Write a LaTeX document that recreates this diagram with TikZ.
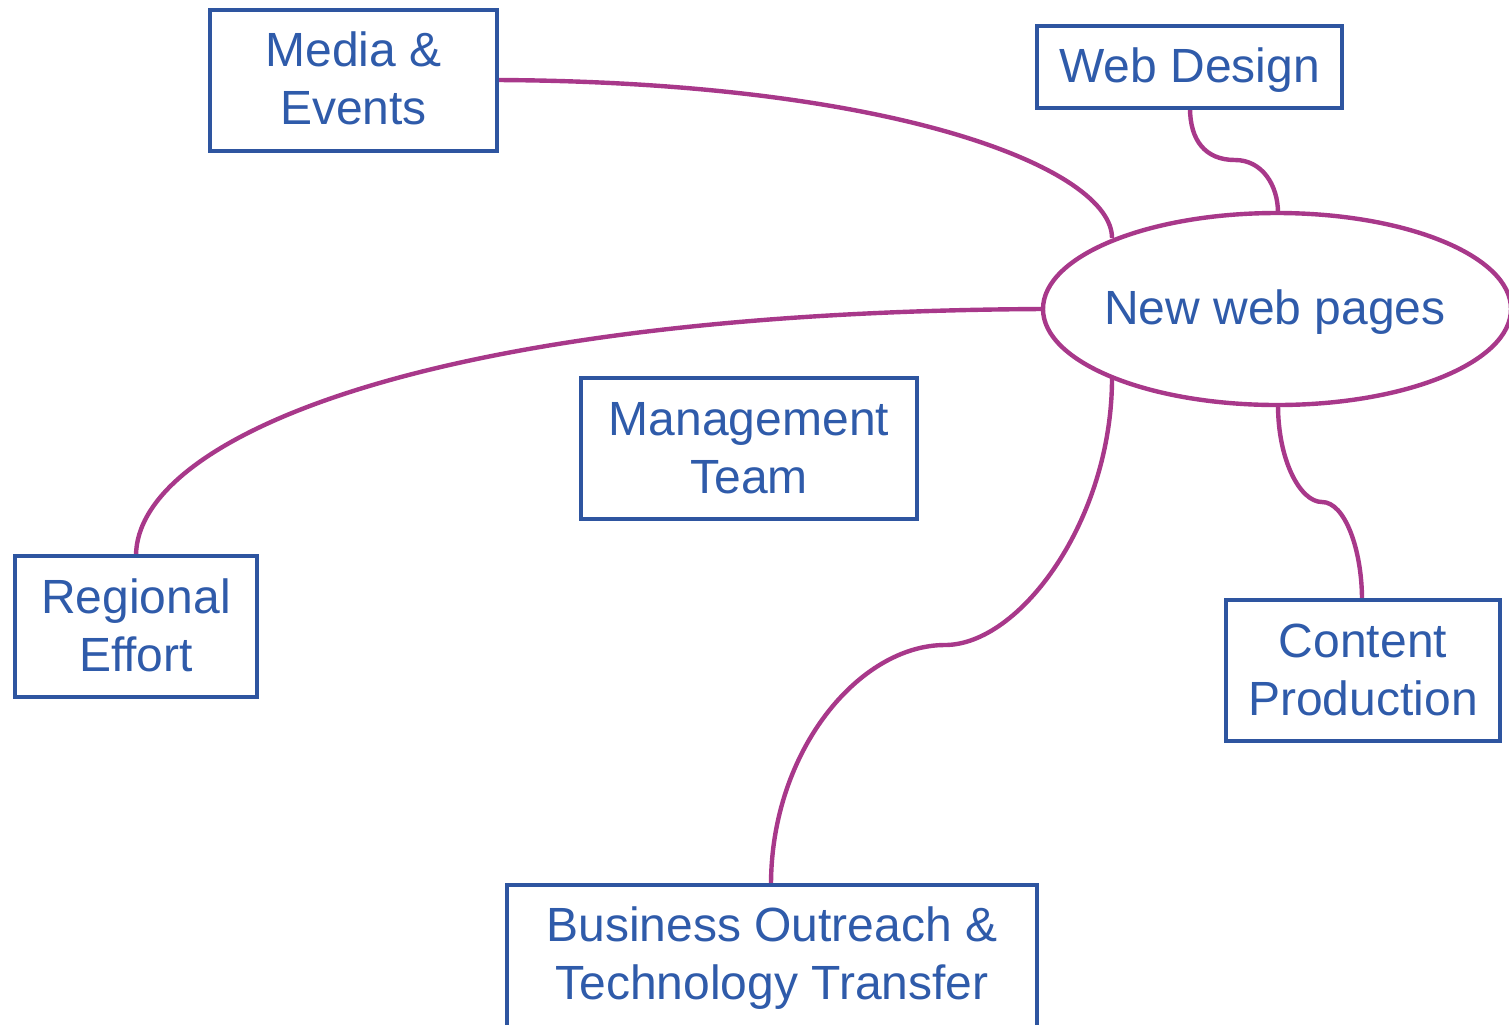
\documentclass[tikz,border=0pt]{standalone}
\usepackage{fontspec}
\setmainfont{Liberation Sans}
\definecolor{boxblue}{HTML}{2E55A0}
\definecolor{txtblue}{HTML}{2F5BAA}
\definecolor{linkmag}{HTML}{A8388A}
\tikzset{
  topic/.style={draw=boxblue, line width=2.1pt, fill=white, text=txtblue, align=center, inner sep=0pt,
     font=\fontsize{24}{29}\selectfont},
  lbl/.style={text=txtblue, align=center, inner sep=0pt, font=\fontsize{24}{29}\selectfont},
  link/.style={draw=linkmag, line width=2.2pt},
}
\begin{document}
\begin{tikzpicture}[x=0.5pt,y=-0.5pt]
\useasboundingbox (0,0) rectangle (1509,1024);
\begin{scope}
\clip (0,0) rectangle (1509,1024);
% connectors first
\coordinate (wd1) at (1235,160);
\coordinate (bo1) at (945,645);
\coordinate (cp1) at (1322,502);
\draw[link] (497,80) .. controls (900,82) and (1112,170) .. (1112,238);
\draw[link] (1190,108) .. controls (1190,140) and (1205,160) .. (wd1) .. controls (1262,160) and (1278,185) .. (1278,213);
\draw[link] (1043,309) .. controls (420,312) and (136,440) .. (136,556);
\draw[link] (1112,378) .. controls (1112,520) and (1020,645) .. (bo1) .. controls (860,645) and (771,750) .. (771,885);
\draw[link] (1278,405) .. controls (1278,460) and (1300,502) .. (cp1) .. controls (1345,502) and (1362,550) .. (1362,600);
% ellipse
\draw[link, fill=white] (1277,309) ellipse [x radius=234, y radius=96];
\node[lbl] (nw) at (1275,312) {New web pages};
% boxes
\node[topic, minimum width=143.5pt, minimum height=70.5pt] (me) at (353.5,80.5) {};
\node[lbl] (mel) at (353.5,78.5) {Media \&\\Events};
\node[topic, minimum width=152.5pt, minimum height=41pt] (wd) at (1189.5,67) {};
\node[lbl] (wdl) at (1189.5,70) {Web Design};
\node[topic, minimum width=168pt, minimum height=70.5pt] (mt) at (749,448.5) {};
\node[lbl] (mtl) at (749,448) {Management\\Team};
\node[topic, minimum width=121pt, minimum height=70.5pt] (re) at (136,626.5) {};
\node[lbl] (rel) at (136,625.5) {Regional\\Effort};
\node[topic, minimum width=137pt, minimum height=70.5pt] (cp) at (1363,670.5) {};
\node[lbl] (cpl) at (1363,669.5) {Content\\Production};
\node[topic, minimum width=265pt, minimum height=72pt] (bo) at (772,957) {};
\node[lbl] (bol) at (772,958) {Business Outreach \&\\Technology Transfer};
\end{scope}
\end{tikzpicture}
\end{document}
